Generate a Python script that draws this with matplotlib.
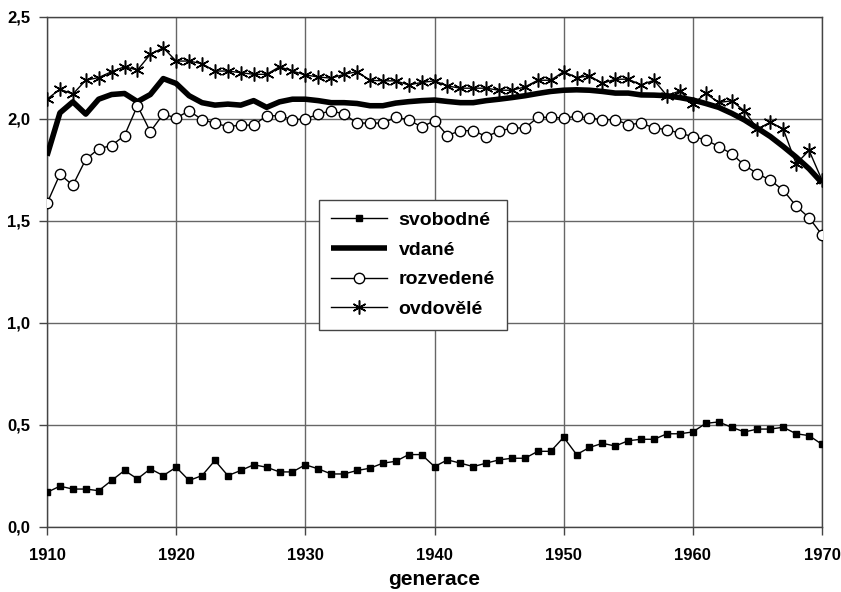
import matplotlib.pyplot as plt

# generace 1910..1970
roky = list(range(1910, 1971))

svobodne = [
    0.17, 0.20, 0.186, 0.186, 0.178, 0.228, 0.277, 0.236, 0.285, 0.252,
    0.293, 0.228, 0.252, 0.326, 0.252, 0.277, 0.305, 0.293, 0.270, 0.270,
    0.305, 0.285, 0.260, 0.260, 0.277, 0.288, 0.313, 0.322, 0.355, 0.355,
    0.296, 0.329, 0.313, 0.296, 0.313, 0.329, 0.337, 0.337, 0.371, 0.371,
    0.440, 0.355, 0.390, 0.410, 0.397, 0.423, 0.430, 0.430, 0.457, 0.457,
    0.466, 0.508, 0.515, 0.489, 0.466, 0.480, 0.480, 0.489, 0.457, 0.448,
    0.405,
]

vdane = [
    1.82, 2.03, 2.084, 2.024, 2.097, 2.12, 2.125, 2.085, 2.12, 2.198,
    2.174, 2.114, 2.08, 2.068, 2.073, 2.068, 2.09, 2.057, 2.084, 2.097,
    2.097, 2.09, 2.08, 2.08, 2.076, 2.065, 2.065, 2.078, 2.085, 2.09,
    2.093, 2.086, 2.08, 2.08, 2.09, 2.097, 2.105, 2.114, 2.125, 2.135,
    2.141, 2.143, 2.141, 2.135, 2.127, 2.127, 2.118, 2.117, 2.114, 2.105,
    2.093, 2.076, 2.057, 2.028, 1.995, 1.955, 1.914, 1.865, 1.813, 1.756,
    1.687,
]

rozvedene = [
    1.586, 1.729, 1.675, 1.802, 1.854, 1.870, 1.919, 2.065, 1.938, 2.024,
    2.005, 2.04, 1.997, 1.979, 1.963, 1.97, 1.97, 2.016, 2.016, 1.997,
    2.0, 2.024, 2.04, 2.024, 1.98, 1.98, 1.98, 2.008, 1.997, 1.96,
    1.992, 1.919, 1.943, 1.943, 1.914, 1.94, 1.956, 1.956, 2.008, 2.008,
    2.005, 2.013, 2.005, 1.997, 1.997, 1.972, 1.98, 1.956, 1.948, 1.93,
    1.914, 1.898, 1.865, 1.83, 1.773, 1.732, 1.70, 1.651, 1.573, 1.516,
    1.432,
]

ovdovele = [
    2.097, 2.146, 2.122, 2.19, 2.203, 2.232, 2.256, 2.24, 2.317, 2.349,
    2.284, 2.284, 2.271, 2.235, 2.235, 2.227, 2.219, 2.219, 2.256, 2.235,
    2.216, 2.206, 2.20, 2.219, 2.232, 2.19, 2.187, 2.187, 2.167, 2.179,
    2.187, 2.162, 2.151, 2.151, 2.151, 2.141, 2.141, 2.157, 2.19, 2.19,
    2.232, 2.203, 2.211, 2.175, 2.195, 2.195, 2.167, 2.19, 2.114, 2.138,
    2.073, 2.125, 2.081, 2.089, 2.04, 1.951, 1.984, 1.951, 1.78, 1.846,
    1.70,
]

x_ticks = [1910, 1920, 1930, 1940, 1950, 1960, 1970]
y_ticks = [0.0, 0.5, 1.0, 1.5, 2.0, 2.5]
y_labels = ["0,0", "0,5", "1,0", "1,5", "2,0", "2,5"]

text_font = ["Liberation Sans", "DejaVu Sans"]

fig = plt.figure(figsize=(8.41, 5.92), dpi=100)
ax = fig.add_axes([0.0559, 0.1098, 0.9215, 0.8615])

# cary
ax.plot(roky, svobodne, color="black", lw=1.0, marker="s", ms=4,
        label="svobodné", zorder=3)
ax.plot(roky, vdane, color="black", lw=4.0, solid_capstyle="butt",
        label="vdané", zorder=3)
ax.plot(roky, rozvedene, color="black", lw=1.0, marker="o", ms=7.5,
        mfc="white", mec="black", mew=1.0, label="rozvedené", zorder=3)
ax.plot(roky, ovdovele, color="black", lw=1.0, marker=(6, 2, 0), ms=10,
        mew=1.1, label="ovdovělé", zorder=3)

ax.set_xlim(1910, 1970)
ax.set_ylim(0, 2.5)
ax.set_xticks(x_ticks)
ax.set_yticks(y_ticks)
ax.set_yticklabels(y_labels)

ax.grid(True, color="#666666", lw=1.0)
ax.set_axisbelow(True)
for s in ax.spines.values():
    s.set_color("#444444")
    s.set_linewidth(1.0)

ax.tick_params(axis="both", direction="out", length=6, width=1.0,
               color="#444444")
ax.tick_params(axis="x", pad=9)
ax.tick_params(axis="y", pad=6)
for lbl in ax.get_xticklabels() + ax.get_yticklabels():
    lbl.set_family(text_font)
    lbl.set_fontweight("bold")
    lbl.set_fontsize(12)

ax.set_xlabel("generace", family=text_font, fontweight="bold",
              fontsize=15, labelpad=5)

leg = ax.legend(loc="center", bbox_to_anchor=(0.472, 0.514),
                prop={"family": text_font, "weight": "bold", "size": 14},
                frameon=True, fancybox=False, framealpha=1,
                edgecolor="#444444", handlelength=2.9, labelspacing=0.62,
                borderpad=0.6, handletextpad=0.6)
leg.get_frame().set_linewidth(1.0)

fig.savefig("out.png", dpi=100)
